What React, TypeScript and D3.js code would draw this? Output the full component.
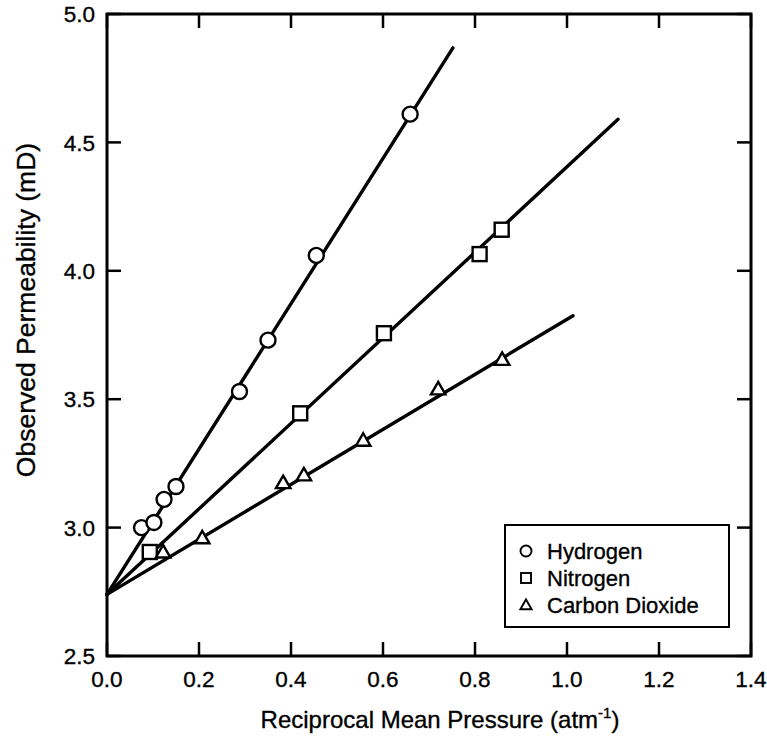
import { useEffect, useRef } from "react";
import * as d3 from "d3";

type Pt = [number, number];

const hydrogen: Pt[] = [
  [0.075, 3.0], [0.102, 3.02], [0.124, 3.11], [0.15, 3.16],
  [0.288, 3.53], [0.35, 3.73], [0.455, 4.06], [0.659, 4.61],
];
const nitrogen: Pt[] = [
  [0.093, 2.905], [0.42, 3.445], [0.602, 3.757], [0.81, 4.065], [0.858, 4.16],
];
const carbonDioxide: Pt[] = [
  [0.122, 2.9], [0.207, 2.955], [0.383, 3.17], [0.428, 3.2],
  [0.557, 3.335], [0.72, 3.535], [0.859, 3.65],
];

// fitted straight lines (start and end of each drawn line)
const hydrogenFit: Pt[] = [[0, 2.74], [0.752, 4.868]];
const nitrogenFit: Pt[] = [[0, 2.74], [1.111, 4.59]];
const carbonDioxideFit: Pt[] = [[0, 2.74], [1.013, 3.825]];

const xTicks = [0, 0.2, 0.4, 0.6, 0.8, 1.0, 1.2, 1.4];
const yTicks = [2.5, 3.0, 3.5, 4.0, 4.5, 5.0];
const legendLabels = ["Hydrogen", "Nitrogen", "Carbon Dioxide"];

const WIDTH = 767;
const HEIGHT = 746;
const MARGIN = { top: 14, right: 16, bottom: 90, left: 107 };
const FONT = "'Liberation Sans', Arial, Helvetica, sans-serif";

export default function App() {
  const svgRef = useRef<SVGSVGElement>(null);

  useEffect(() => {
    if (!svgRef.current) return;
    const svg = d3.select(svgRef.current);
    svg.selectAll("*").remove();

    const w = WIDTH - MARGIN.left - MARGIN.right;
    const h = HEIGHT - MARGIN.top - MARGIN.bottom;

    const x = d3.scaleLinear().domain([0, 1.4]).range([0, w]);
    const y = d3.scaleLinear().domain([2.5, 5.0]).range([h, 0]);

    const g = svg
      .append("g")
      .attr("transform", `translate(${MARGIN.left},${MARGIN.top})`);

    const tickLen = 14;

    // inward ticks on all four sides
    const ticks = g.append("g").attr("stroke", "#000").attr("stroke-width", 2.5);
    xTicks.forEach((t) => {
      ticks.append("line").attr("x1", x(t)).attr("x2", x(t)).attr("y1", h).attr("y2", h - tickLen);
      ticks.append("line").attr("x1", x(t)).attr("x2", x(t)).attr("y1", 0).attr("y2", tickLen);
    });
    yTicks.forEach((t) => {
      ticks.append("line").attr("x1", 0).attr("x2", tickLen).attr("y1", y(t)).attr("y2", y(t));
      ticks.append("line").attr("x1", w).attr("x2", w - tickLen).attr("y1", y(t)).attr("y2", y(t));
    });

    // frame
    g.append("rect")
      .attr("width", w)
      .attr("height", h)
      .attr("fill", "none")
      .attr("stroke", "#000")
      .attr("stroke-width", 3);

    // text looks a little heavy in the scan
    const heavy = (sel: d3.Selection<any, any, any, any>) =>
      sel.attr("font-family", FONT).attr("stroke", "#000").attr("stroke-width", 0.35);

    // tick labels
    heavy(
      g.append("g")
        .selectAll("text")
        .data(xTicks)
        .join("text")
        .attr("x", (d) => x(d))
        .attr("y", h + 31)
        .attr("text-anchor", "middle")
        .attr("font-size", 22.5)
        .text((d) => d.toFixed(1))
    );

    heavy(
      g.append("g")
        .selectAll("text")
        .data(yTicks)
        .join("text")
        .attr("x", -12)
        .attr("y", (d) => y(d))
        .attr("dy", "0.36em")
        .attr("text-anchor", "end")
        .attr("font-size", 22.5)
        .text((d) => d.toFixed(1))
    );

    // axis titles
    const xt = heavy(
      g.append("text")
        .attr("x", w / 2 + 11)
        .attr("y", h + 72)
        .attr("text-anchor", "middle")
        .attr("font-size", 24)
    );
    xt.append("tspan").text("Reciprocal Mean Pressure (atm");
    xt.append("tspan").attr("font-size", 15).attr("dy", -10).text("-1");
    xt.append("tspan").attr("dy", 10).text(")");

    heavy(
      g.append("text")
        .attr("transform", `translate(${-72},${h / 2 - 25}) rotate(-90)`)
        .attr("text-anchor", "middle")
        .attr("font-size", 26.5)
        .text("Observed Permeability (mD)")
    );

    // fitted lines
    const line = d3.line<Pt>().x((d) => x(d[0])).y((d) => y(d[1]));
    [hydrogenFit, nitrogenFit, carbonDioxideFit].forEach((fit) => {
      g.append("path")
        .datum(fit)
        .attr("d", line)
        .attr("fill", "none")
        .attr("stroke", "#000")
        .attr("stroke-width", 3.4)
        .attr("stroke-linecap", "round");
    });

    const markerStyle = (sel: d3.Selection<any, any, any, any>, sw: number) =>
      sel.attr("fill", "#fff").attr("stroke", "#000").attr("stroke-width", sw);

    const tri = d3.symbol().type(d3.symbolTriangle);

    // data markers
    markerStyle(
      g.append("g")
        .selectAll("circle")
        .data(hydrogen)
        .join("circle")
        .attr("cx", (d) => x(d[0]))
        .attr("cy", (d) => y(d[1]))
        .attr("r", 7.5),
      2.4
    );
    markerStyle(
      g.append("g")
        .selectAll("rect")
        .data(nitrogen)
        .join("rect")
        .attr("x", (d) => x(d[0]) - 7)
        .attr("y", (d) => y(d[1]) - 7)
        .attr("width", 14)
        .attr("height", 14),
      2.4
    );
    markerStyle(
      g.append("g")
        .selectAll("path")
        .data(carbonDioxide)
        .join("path")
        .attr("transform", (d) => `translate(${x(d[0])},${y(d[1])})`)
        .attr("d", tri.size(90)()),
      2.4
    );

    // legend
    const lg = svg.append("g");
    lg.append("rect")
      .attr("x", 505)
      .attr("y", 525)
      .attr("width", 224)
      .attr("height", 102)
      .attr("fill", "#fff")
      .attr("stroke", "#000")
      .attr("stroke-width", 2);

    const rowY = [551, 578, 605];
    legendLabels.forEach((label, i) => {
      const cy = rowY[i];
      if (i === 0) {
        markerStyle(lg.append("circle").attr("cx", 526).attr("cy", cy).attr("r", 5.5), 1.9);
      } else if (i === 1) {
        markerStyle(
          lg.append("rect").attr("x", 521).attr("y", cy - 5).attr("width", 10).attr("height", 10),
          1.9
        );
      } else {
        markerStyle(
          lg.append("path").attr("transform", `translate(526,${cy + 1})`).attr("d", tri.size(55)()),
          1.9
        );
      }
      heavy(
        lg.append("text")
          .attr("x", 547)
          .attr("y", cy)
          .attr("dy", "0.36em")
          .attr("font-size", 22)
          .text(label)
      );
    });
  }, []);

  return (
    <svg
      ref={svgRef}
      width={WIDTH}
      height={HEIGHT}
      style={{ position: "absolute", left: 0, top: 0, background: "#fff" }}
      role="img"
      aria-label="Observed permeability versus reciprocal mean pressure"
    />
  );
}
